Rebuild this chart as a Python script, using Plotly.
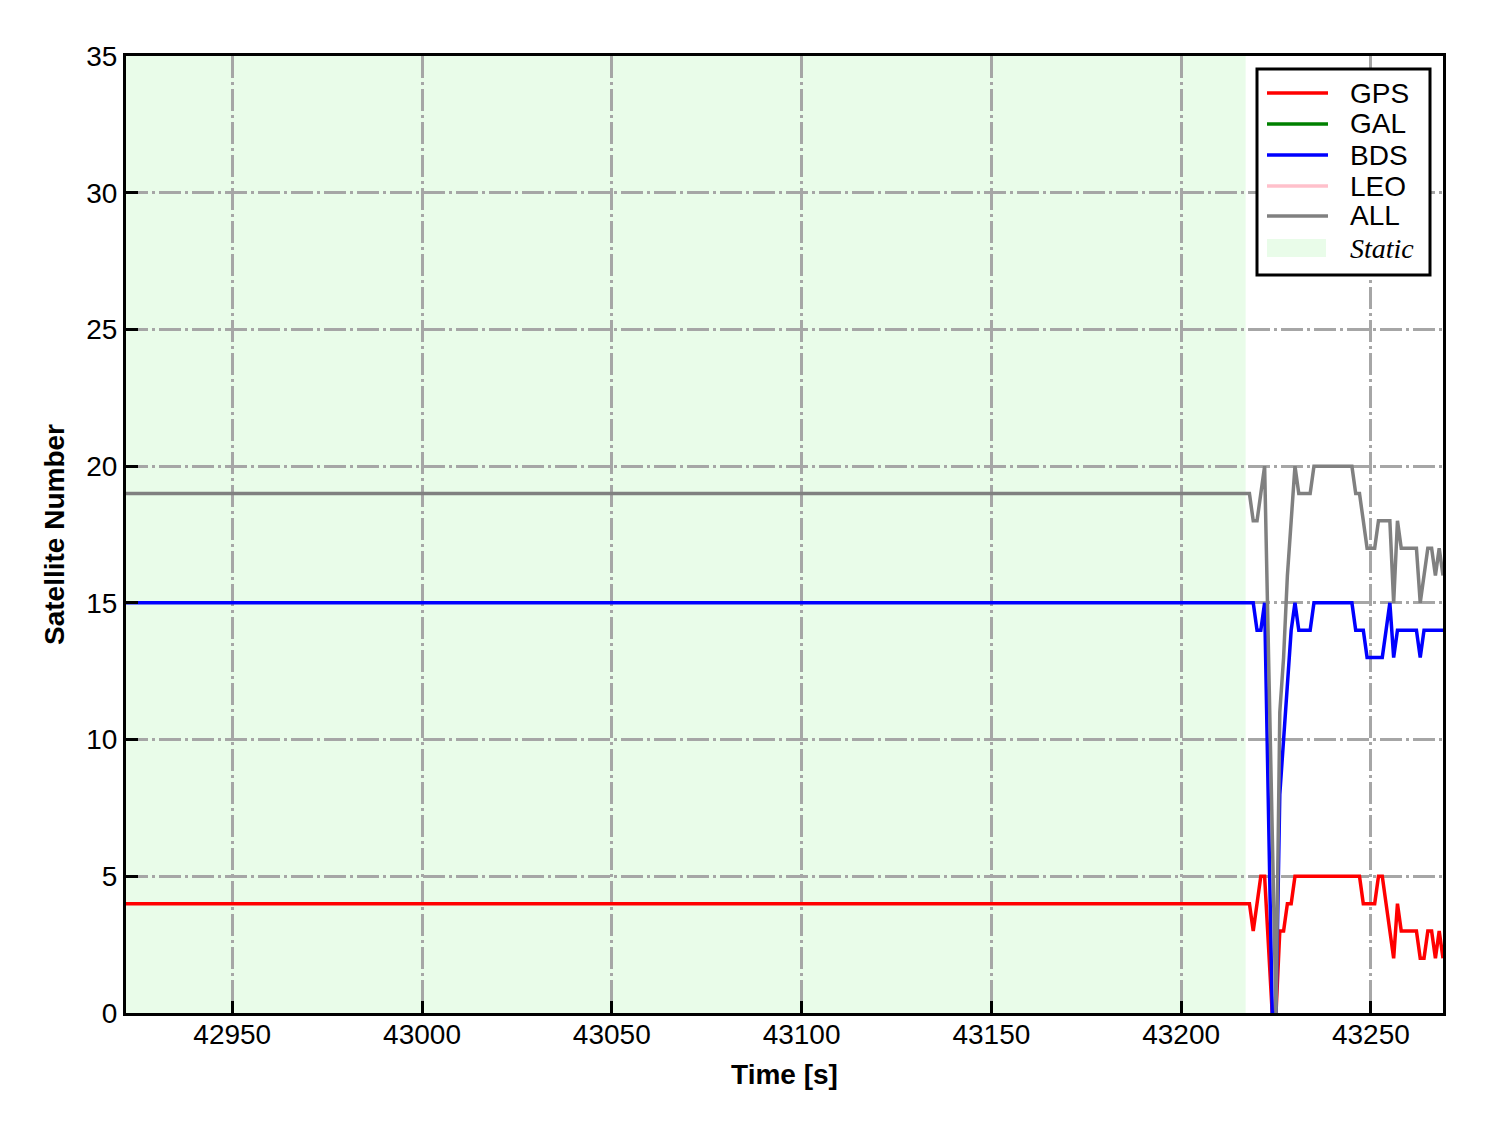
"""Satellite number time series with static interval shading."""
import plotly.graph_objects as go

# time stamps [s] (flat static period is given by its end points)
TIME = [
    42922, 43218, 43219, 43220, 43221, 43222, 43223, 43224, 43225, 43226,
    43227, 43228, 43229, 43230, 43231, 43232, 43233, 43234, 43235, 43236,
    43237, 43238, 43239, 43240, 43241, 43242, 43243, 43244, 43245, 43246,
    43247, 43248, 43249, 43250, 43251, 43252, 43253, 43254, 43255, 43256,
    43257, 43258, 43259, 43260, 43261, 43262, 43263, 43264, 43265, 43266,
    43267, 43268, 43269,
]
GPS = [
    4, 4, 3, 4, 5, 5, None, 0, 0, 3,
    3, 4, 4, 5, 5, 5, 5, 5, 5, 5,
    5, 5, 5, 5, 5, 5, 5, 5, 5, 5,
    5, 4, 4, 4, 4, 5, 5, 4, 3, 2,
    4, 3, 3, 3, 3, 3, 2, 2, 3, 3,
    2, 3, 2,
]
BDS = [
    15, 15, 15, 14, 14, 15, None, 0, 0, 8,
    10, 12, 14, 15, 14, 14, 14, 14, 15, 15,
    15, 15, 15, 15, 15, 15, 15, 15, 15, 14,
    14, 14, 13, 13, 13, 13, 13, 14, 15, 13,
    14, 14, 14, 14, 14, 14, 13, 14, 14, 14,
    14, 14, 14,
]
ALL = [
    19, 19, 18, 18, 19, 20, None, None, 0, 11,
    13, 16, 18, 20, 19, 19, 19, 19, 20, 20,
    20, 20, 20, 20, 20, 20, 20, 20, 20, 19,
    19, 18, 17, 17, 17, 18, 18, 18, 18, 15,
    18, 17, 17, 17, 17, 17, 15, 16, 17, 17,
    16, 17, 16,
]
GAL = []  # no GAL satellites in this window
LEO = []  # no LEO satellites in this window

STATIC_START = 42922
STATIC_END = 43217

X_RANGE = [42922, 43269]
Y_RANGE = [0, 35]
X_TICKS = [42950, 43000, 43050, 43100, 43150, 43200, 43250]
Y_TICKS = [0, 5, 10, 15, 20, 25, 30, 35]

SERIES = [
    ("GPS", "#ff0000", GPS),
    ("GAL", "#008000", GAL),
    ("BDS", "#0000ff", BDS),
    ("LEO", "#ffc0cb", LEO),
    ("ALL", "#808080", ALL),
]
STATIC_COLOR = "#e9fce9"
GRID_COLOR = "#a6a6a6"
FONT = "Liberation Sans, Arial, sans-serif"

# page body has an 8px margin, so the figure is a bit smaller than the window
OFF = 8
W, H = 1472, 1117
L, R, T, B = 118, 37, 48, 112


def px_x(p):
    # page pixel -> paper coordinate
    return (p - OFF - L) / (W - L - R)


def px_y(p):
    return (H - B - (p - OFF)) / (H - T - B)


fig = go.Figure()

for name, color, vals in SERIES:
    t = TIME if vals else []
    fig.add_trace(go.Scatter(
        x=t, y=vals, name=name, mode="lines",
        line=dict(color=color, width=3.5),
        connectgaps=True, showlegend=False,
    ))

fig.add_vrect(x0=STATIC_START, x1=STATIC_END, fillcolor=STATIC_COLOR,
              line_width=0, layer="below")

# hand-drawn legend box (matplotlib style)
fig.add_shape(type="rect", xref="paper", yref="paper",
              x0=px_x(1257), x1=px_x(1430), y0=px_y(275), y1=px_y(69),
              fillcolor="white", line=dict(color="black", width=3), layer="above")
rows = [93, 124, 155, 186, 216]
for (name, color, _), ry in zip(SERIES, rows):
    fig.add_shape(type="line", xref="paper", yref="paper",
                  x0=px_x(1267), x1=px_x(1328), y0=px_y(ry), y1=px_y(ry),
                  line=dict(color=color, width=3.5), layer="above")
    fig.add_annotation(text=name, xref="paper", yref="paper",
                       x=px_x(1348), y=px_y(ry), xanchor="left", yanchor="middle",
                       showarrow=False, font=dict(family=FONT, size=28, color="black"))
fig.add_shape(type="rect", xref="paper", yref="paper",
              x0=px_x(1267), x1=px_x(1326), y0=px_y(257), y1=px_y(239),
              fillcolor=STATIC_COLOR, line_width=0, layer="above")
fig.add_annotation(text="Static", xref="paper", yref="paper",
                   x=px_x(1348), y=px_y(248), xanchor="left", yanchor="middle",
                   showarrow=False,
                   font=dict(family="Liberation Serif, Times New Roman, serif",
                             size=28, color="black", style="italic"))

axis_common = dict(
    showline=True, linecolor="black", linewidth=3, mirror=True,
    ticks="inside", ticklen=12, tickwidth=3, tickcolor="black",
    showgrid=True, gridcolor=GRID_COLOR, gridwidth=2.5,
    griddash="22px,4px,3px,4px", zeroline=False,
    tickfont=dict(family=FONT, size=28, color="black"),
)
fig.update_xaxes(range=X_RANGE, tickvals=X_TICKS, tickformat="d",
                 ticklabelstandoff=-6, **axis_common,
                 title=dict(text="<b>Time [s]</b>", standoff=16,
                            font=dict(family=FONT, size=28, color="black")))
fig.update_yaxes(range=Y_RANGE, tickvals=Y_TICKS, **axis_common,
                 title=dict(text="<b>Satellite Number</b>", standoff=14,
                            font=dict(family=FONT, size=28, color="black")))

fig.update_layout(
    width=W, height=H,
    margin=dict(l=L, r=R, t=T, b=B),
    paper_bgcolor="white", plot_bgcolor="white",
    font=dict(family=FONT, color="black"),
)

fig.write_html("out.html")
